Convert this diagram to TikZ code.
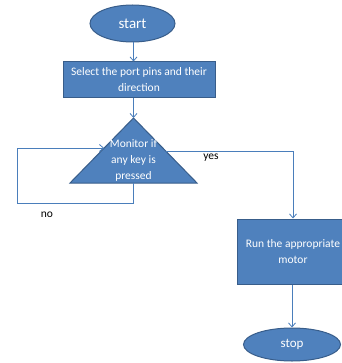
\documentclass[tikz,border=0pt]{standalone}
\usepackage{fontspec}
\setmainfont{Carlito}
\usetikzlibrary{arrows.meta,shapes.geometric}
\definecolor{boxfill}{HTML}{4F81BD}
\definecolor{boxline}{HTML}{385D8A}
\definecolor{conn}{HTML}{4A7EBB}
\tikzset{
  term/.style={ellipse,draw=boxline,fill=boxfill,line width=1pt,text=white,inner sep=0pt},
  proc/.style={rectangle,draw=boxline,fill=boxfill,line width=1pt,text=white,align=center,inner sep=0pt},
  conline/.style={draw=conn,line width=0.8pt},
  arr/.style={conline,-{Straight Barb[length=4pt,width=7pt]}},
  lbl/.style={text=black,font=\fontsize{11.5}{13}\selectfont,inner sep=0pt}
}
\begin{document}
\begin{tikzpicture}[x=1pt,y=-1pt]
\useasboundingbox (0,0) rectangle (341,363);
% start
\node[term,minimum width=85pt,minimum height=37pt,font=\fontsize{15}{17}\selectfont] (start) at (132.5,23.5) {start};
% select
\node[proc,minimum width=152pt,minimum height=36pt,font=\fontsize{11.5}{16}\selectfont] (sel) at (139,80) {Select the port pins and their\\direction};
% triangle
\coordinate (apex) at (133.5,118);
\coordinate (bl) at (70,183);
\coordinate (br) at (197,183);
\coordinate (basemid) at (133.5,183);
\coordinate (noin) at (104,148);
\coordinate (yesout) at (165.5,151);
\filldraw[draw=boxline,fill=boxfill,line width=1pt] (apex) -- (br) -- (bl) -- cycle;
\node[text=white,align=center,font=\fontsize{11.5}{16}\selectfont,inner sep=0pt] (mon) at (133.5,160) {Monitor if\\any key is\\pressed};
% run
\node[proc,minimum width=112pt,minimum height=65pt,font=\fontsize{11.5}{16}\selectfont] (run) at (293,251.5) {Run the appropriate\\motor};
% stop
\node[term,minimum width=97pt,minimum height=33pt,font=\fontsize{13}{15}\selectfont] (stop) at (292,344.5) {stop};
% connectors
\draw[arr] (start.south -| apex) -- (sel.north -| apex);
\draw[arr] (sel.south -| apex) -- (apex);
\draw[arr] (basemid) -- ++(0,20) -| (17,148) -- (noin);
\draw[arr] (yesout) -| (run.north);
\draw[arr] (run.south -| stop.north) -- (stop.north);
% labels
\node[lbl] (yes) at (211,158) {yes};
\node[lbl] (no) at (47,215) {no};
\end{tikzpicture}
\end{document}
